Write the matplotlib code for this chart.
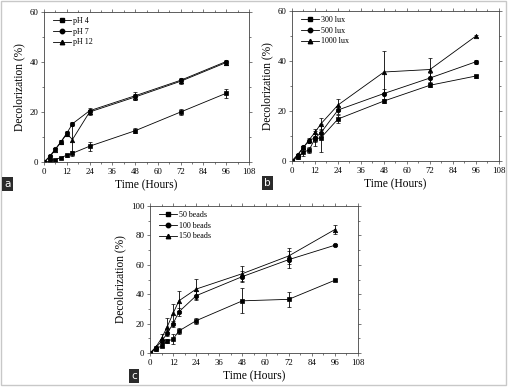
import matplotlib.pyplot as plt
from matplotlib.lines import Line2D
import numpy as np

plt.rcParams["font.family"] = ["Liberation Serif", "DejaVu Serif"]

W, H = 510, 388

hours = [0, 3, 6, 9, 12, 15, 24, 48, 72, 96]
x_ticks = [0, 12, 24, 36, 48, 60, 72, 84, 96, 108]

# panel a - pH
ph_labels = ["pH 4", "pH 7", "pH 12"]
ph4 = [0, 0.3, 1.0, 1.8, 2.7, 3.5, 6.3, 12.5, 20.0, 27.5]
ph4_err = [0, 0.3, 0.4, 0.4, 0.5, 1.0, 1.7, 1.0, 1.3, 1.8]
ph7 = [0, 2.3, 5.2, 8.2, 11.5, 15.3, 20.5, 26.5, 32.7, 40.2]
ph7_err = [0, 0.5, 0.6, 0.7, 0.8, 0.8, 1.2, 1.5, 1.0, 0.8]
ph12 = [0, 2.0, 5.0, 8.0, 11.3, 9.0, 20.0, 26.0, 32.3, 39.8]
ph12_err = [0, 0.5, 0.6, 0.7, 0.8, 5.8, 1.0, 1.2, 1.0, 0.8]

# panel b - light intensity
lux_labels = ["300 lux", "500 lux", "1000 lux"]
lux300 = [0, 1.5, 3.5, 4.5, 9.0, 9.2, 16.8, 24.0, 30.3, 34.0]
lux300_err = [0, 0.6, 1.5, 1.2, 3.0, 5.5, 1.5, 0.6, 0.6, 0.6]
lux500 = [0, 2.5, 5.5, 8.2, 9.3, 11.2, 20.4, 27.0, 33.2, 39.7]
lux500_err = [0, 0.5, 0.6, 0.8, 1.5, 1.5, 1.5, 2.0, 2.0, 0.8]
lux1000 = [0, 2.5, 5.5, 8.5, 11.5, 14.8, 22.4, 35.6, 36.6, 50.0]
lux1000_err = [0, 0.5, 0.6, 0.8, 1.5, 2.5, 2.3, 8.3, 4.8, 0.5]

# panel c - bead number
bead_labels = ["50 beads", "100 beads", "150 beads"]
beads50 = [0, 2.5, 5.0, 8.0, 9.5, 15.0, 22.0, 35.5, 36.5, 49.5]
beads50_err = [0, 0.8, 1.0, 1.5, 3.5, 2.0, 2.0, 8.5, 5.0, 0.8]
beads100 = [0, 3.5, 8.0, 13.5, 20.0, 28.0, 39.0, 52.0, 63.5, 73.3]
beads100_err = [0, 1.0, 1.5, 2.0, 2.0, 2.5, 3.0, 4.0, 6.0, 0.8]
beads150 = [0, 4.0, 10.0, 18.0, 27.0, 35.5, 43.5, 54.0, 66.0, 84.0]
beads150_err = [0, 1.0, 3.0, 6.0, 6.5, 7.0, 7.0, 5.0, 5.5, 3.0]

markers = ["s", "o", "^"]


def add_axes_px(fig, left, top, right, bottom):
    return fig.add_axes([left / W, 1 - bottom / H, (right - left) / W, (bottom - top) / H])


def draw_panel(ax, series, errors, labels, ymax, ystep, legend_anchor):
    for y, e, m, lab in zip(series, errors, markers, labels):
        ax.errorbar(hours, y, yerr=e, marker=m, markersize=3.2, color="black",
                    linewidth=0.6, elinewidth=0.6, capsize=1.6, capthick=0.6,
                    markeredgewidth=0.5, label=lab)
    ax.set_xlim(0, 108)
    ax.set_ylim(0, ymax)
    ax.set_xticks(x_ticks)
    ax.set_yticks(np.arange(0, ymax + 1, ystep))
    ax.set_xticks(np.arange(6, 108, 12), minor=True)
    ax.set_yticks(np.arange(ystep / 2, ymax, ystep), minor=True)
    ax.tick_params(which="both", labelsize=6.3, width=0.5, color="#444444",
                   top=True, right=True, direction="out", pad=1.5)
    ax.tick_params(which="major", length=2.5)
    ax.tick_params(which="minor", length=1.5)
    for s in ax.spines.values():
        s.set_linewidth(0.6)
        s.set_color("#444444")
    ax.set_xlabel("Time (Hours)", fontsize=8.3, labelpad=3)
    ax.set_ylabel("Decolorization (%)", fontsize=8.3, labelpad=3)
    handles = [Line2D([], [], color="black", marker=m, markersize=3.2, linewidth=0.6)
               for m in markers]
    ax.legend(handles, labels, loc="upper left", bbox_to_anchor=legend_anchor,
              frameon=False, fontsize=5.8, handlelength=2.2, handletextpad=0.3,
              labelspacing=0.35, borderaxespad=0.2)


def panel_tag(fig, x, y, text):
    fig.text(x / W, 1 - y / H, text, fontsize=7.5, color="white", family="DejaVu Sans",
             ha="left", va="top",
             bbox=dict(boxstyle="square,pad=0.22", facecolor="#2b2b2b", edgecolor="none"))


fig = plt.figure(figsize=(W / 100, H / 100), dpi=100)

ax_a = add_axes_px(fig, 44, 12, 249, 162)
draw_panel(ax_a, [ph4, ph7, ph12], [ph4_err, ph7_err, ph12_err], ph_labels, 60, 20, (0.02, 1.0))

ax_b = add_axes_px(fig, 292, 11, 499, 161)
draw_panel(ax_b, [lux300, lux500, lux1000], [lux300_err, lux500_err, lux1000_err],
           lux_labels, 60, 20, (0.02, 1.0))

ax_c = add_axes_px(fig, 150, 206, 358, 353)
draw_panel(ax_c, [beads50, beads100, beads150], [beads50_err, beads100_err, beads150_err],
           bead_labels, 100, 20, (0.02, 1.0))

panel_tag(fig, 4, 179, "a")
panel_tag(fig, 264, 178, "b")
panel_tag(fig, 131, 371, "c")

# grey frame round the whole figure
frame = plt.Rectangle((1.5 / W, 3 / H), 505 / W, 384 / H, transform=fig.transFigure,
                      fill=False, edgecolor="#c8c8c8", linewidth=1.0)
fig.patches.append(frame)

fig.savefig("out.png", dpi=100)
